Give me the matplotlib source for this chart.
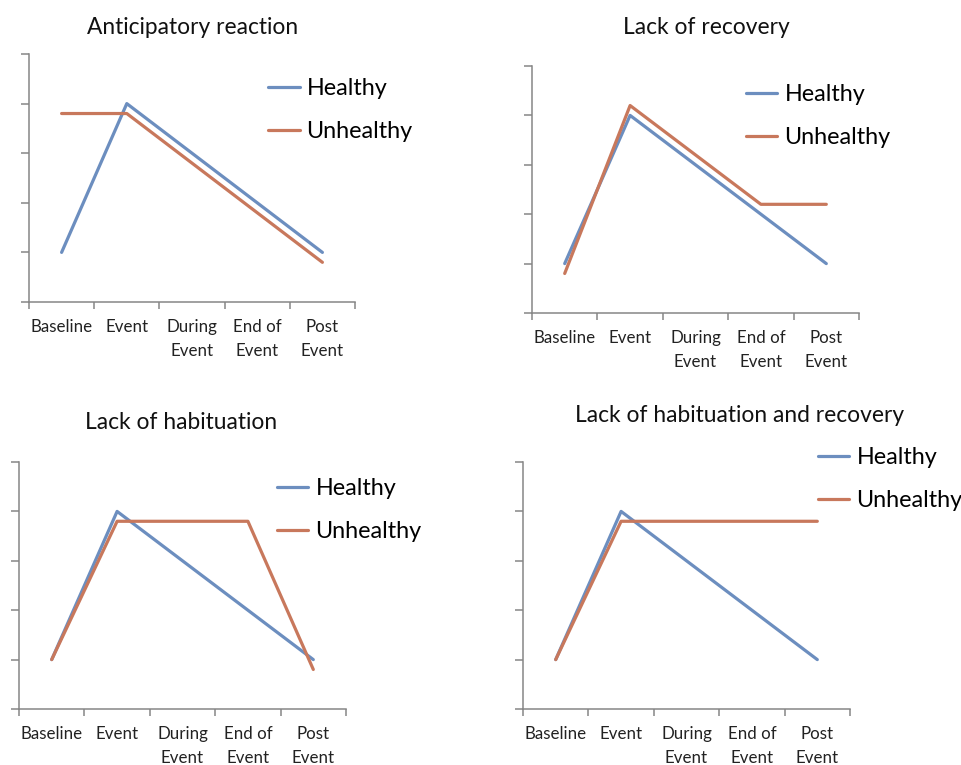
import matplotlib
matplotlib.use("Agg")
import matplotlib.pyplot as plt

plt.rcParams['font.family'] = ['Lato', 'DejaVu Sans']

categories = ["Baseline", "Event", "During\nEvent", "End of\nEvent", "Post\nEvent"]
titles = ["Anticipatory reaction", "Lack of recovery",
          "Lack of habituation", "Lack of habituation and recovery"]

healthy_p1 = [1, 4, 3, 2, 1]
unhealthy_p1 = [3.8, 3.8, 2.8, 1.8, 0.8]
healthy_p2 = [1, 4, 3, 2, 1]
unhealthy_p2 = [0.8, 4.2, 3.2, 2.2, 2.2]
healthy_p3 = [1, 4, 3, 2, 1]
unhealthy_p3 = [1, 3.8, 3.8, 3.8, 0.8]
healthy_p4 = [1, 4, 3, 2, 1]
unhealthy_p4 = [1, 3.8, 3.8, 3.8, 3.8]

W, H = 962, 765
blue = '#6C8EBF'
red = '#C8785C'
gray = '#868686'

# axes boxes in pixels: left, top, right, bottom
boxes = [(29, 54, 355, 302), (532, 66, 859, 313),
         (19, 462, 346, 709), (523, 462, 850, 709)]
title_pos = [(193, 27), (706, 27), (181, 422), (740, 416)]
legend_pos = [(268, 78), (746, 84), (277, 478), (818, 447)]

series = [(healthy_p1, unhealthy_p1), (healthy_p2, unhealthy_p2),
          (healthy_p3, unhealthy_p3), (healthy_p4, unhealthy_p4)]

fig = plt.figure(figsize=(W / 100, H / 100), dpi=100, facecolor='white')

for i, (h, u) in enumerate(series):
    l, t, r, b = boxes[i]
    ax = fig.add_axes([l / W, 1 - b / H, (r - l) / W, (b - t) / H])
    x = range(len(categories))
    ax.plot(x, h, color=blue, lw=2.3, label='Healthy', solid_capstyle='round')
    ax.plot(x, u, color=red, lw=2.3, label='Unhealthy', solid_capstyle='round')
    ax.set_xlim(-0.5, 4.5)
    ax.set_ylim(0, 5)
    ax.set_yticks(range(6))
    ax.set_yticklabels([])
    ax.set_xticks([k - 0.5 for k in range(6)])
    ax.set_xticklabels([])
    ax.set_xticks(list(x), minor=True)
    ax.set_xticklabels(categories, minor=True, fontsize=12.2, color='#222222',
                       linespacing=1.55)
    ax.tick_params(axis='x', which='minor', length=0, pad=12.5)
    ax.tick_params(axis='x', which='major', direction='out', length=5,
                   color=gray, width=1.1)
    ax.tick_params(axis='y', direction='out', length=6, color=gray, width=1.1)
    for s in ['top', 'right']:
        ax.spines[s].set_visible(False)
    for s in ['left', 'bottom']:
        ax.spines[s].set_color(gray)
        ax.spines[s].set_linewidth(1.1)
    tx, ty = title_pos[i]
    fig.text(tx / W, 1 - ty / H, titles[i], ha='center', va='center',
             fontsize=16.4, color='#111111')
    lx, ly = legend_pos[i]
    ax.legend(loc='upper left', bbox_to_anchor=(lx / W, 1 - ly / H),
              bbox_transform=fig.transFigure, frameon=False, fontsize=16.8,
              handlelength=1.35, handletextpad=0.3, labelspacing=0.95,
              borderaxespad=0, borderpad=0)

fig.savefig('out.png', dpi=100, facecolor='white')
